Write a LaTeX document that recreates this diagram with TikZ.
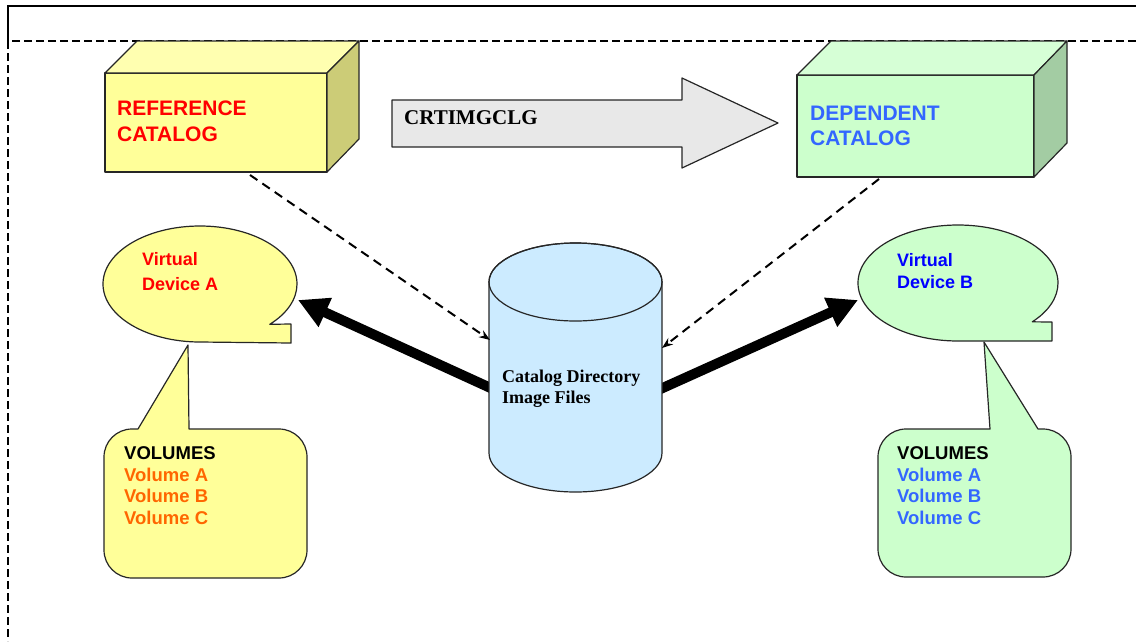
\documentclass[tikz,border=0pt]{standalone}
\usepackage{fontspec}
\setmainfont{Liberation Sans}
\newfontfamily\serifbold{Liberation Serif}
\usetikzlibrary{arrows.meta}
\definecolor{yfront}{HTML}{FFFF99}
\definecolor{ytop}{HTML}{FFFFB0}
\definecolor{yside}{HTML}{CCCC77}
\definecolor{gfront}{HTML}{CCFFCC}
\definecolor{gtop}{HTML}{D6FFD6}
\definecolor{gside}{HTML}{A3CCA3}
\definecolor{cylblue}{HTML}{CCEBFF}
\definecolor{arrgray}{HTML}{E8E8E8}
\definecolor{depblue}{HTML}{3366FF}
\definecolor{volorange}{HTML}{FF6600}
\tikzset{
  shapeline/.style={draw=black!85, line width=1.2pt, line join=round},
  bigtxt/.style={anchor=base west, inner sep=0pt, font=\fontsize{21}{25}\selectfont\bfseries},
  devtxt/.style={anchor=base west, inner sep=0pt, font=\fontsize{18}{21}\selectfont\bfseries},
  voltxt/.style={anchor=base west, inner sep=0pt, font=\fontsize{18.5}{21}\selectfont\bfseries},
  cyltxt/.style={anchor=base west, inner sep=0pt, font=\serifbold\fontsize{18}{21}\selectfont\bfseries},
  dasharrow/.style={line width=2pt, dash pattern=on 9pt off 6pt, -{Stealth[length=11pt,width=8pt]}},
  thickarrow/.style={line width=10pt, -{Triangle[length=30pt,width=30pt]}}
}
\begin{document}
\begin{tikzpicture}[x=1pt,y=-1pt]
\useasboundingbox (0,0) rectangle (1136,641);
% frame
\draw[line width=1.2pt] (8,41) -- (8,6) -- (1136,6);
\draw[line width=1.8pt, dash pattern=on 8pt off 4pt] (1136,41) -- (8,41) -- (8,641);

% reference catalog cuboid
\draw[shapeline, fill=yfront] (105,73) rectangle (327,172);
\draw[shapeline, fill=ytop] (105,73) -- (137,41) -- (359,41) -- (327,73) -- cycle;
\draw[shapeline, fill=yside] (327,73) -- (359,41) -- (359,139) -- (327,172) -- cycle;
\node[bigtxt, text=red] (ref1) at (117,115) {REFERENCE};
\node[bigtxt, text=red] (ref2) at (117,141) {CATALOG};

% dependent catalog cuboid
\draw[shapeline, fill=gfront] (797,75) rectangle (1034,177);
\draw[shapeline, fill=gtop] (797,75) -- (831,41) -- (1067,41) -- (1034,75) -- cycle;
\draw[shapeline, fill=gside] (1034,75) -- (1067,41) -- (1067,143) -- (1034,177) -- cycle;
\node[bigtxt, text=depblue] (dep1) at (810,120) {DEPENDENT};
\node[bigtxt, text=depblue] (dep2) at (810,145) {CATALOG};

% CRTIMGCLG block arrow
\draw[shapeline, fill=arrgray] (392,100) -- (682,100) -- (682,78) -- (778,123) -- (682,168) -- (682,147) -- (392,147) -- cycle;
\node[anchor=base west, inner sep=0pt, font=\serifbold\fontsize{21}{25}\selectfont\bfseries] (crt) at (404,124) {CRTIMGCLG};

% virtual device A callout
\draw[shapeline, fill=yfront] (200,342) arc[start angle=90, end angle=404, x radius=97, y radius=58] -- (291,324) -- (291,343) -- cycle;
\node[devtxt, text=red] (va1) at (142,265) {Virtual};
\node[devtxt, text=red] (va2) at (142,290) {Device A};

% volumes A callout
\draw[shapeline, fill=yfront] (138,429) -- (188,345) -- (189,429) -- (279,429)
  arc[start angle=-90, end angle=0, radius=28] -- (307,550)
  arc[start angle=0, end angle=90, radius=28] -- (132,578)
  arc[start angle=90, end angle=180, radius=28] -- (104,457)
  arc[start angle=180, end angle=270, radius=28] -- cycle;
\node[voltxt] (vola0) at (124,459) {VOLUMES};
\node[voltxt, text=volorange] (vola1) at (124,481) {Volume A};
\node[voltxt, text=volorange] (vola2) at (124,502) {Volume B};
\node[voltxt, text=volorange] (vola3) at (124,524) {Volume C};

% virtual device B callout
\draw[shapeline, fill=gfront] (958,341) arc[start angle=90, end angle=402, x radius=100, y radius=58] -- (1052,322) -- (1052,341) -- cycle;
\node[devtxt, text=blue] (vb1) at (897,266) {Virtual};
\node[devtxt, text=blue] (vb2) at (897,288) {Device B};

% volumes B callout
\draw[shapeline, fill=gfront] (906,429) -- (990,429) -- (984,342) -- (1038,429) -- (1043,429)
  arc[start angle=-90, end angle=0, radius=28] -- (1071,549)
  arc[start angle=0, end angle=90, radius=28] -- (906,577)
  arc[start angle=90, end angle=180, radius=28] -- (878,457)
  arc[start angle=180, end angle=270, radius=28] -- cycle;
\node[voltxt] (volb0) at (897,459) {VOLUMES};
\node[voltxt, text=depblue] (volb1) at (897,481) {Volume A};
\node[voltxt, text=depblue] (volb2) at (897,502) {Volume B};
\node[voltxt, text=depblue] (volb3) at (897,524) {Volume C};

% connector end points
\coordinate (cylLthick) at (495,390);
\coordinate (cylRthick) at (656,391);
\coordinate (devAtip) at (298,300);
\coordinate (devBtip) at (858,300);
\coordinate (refout) at (250,175);
\coordinate (depout) at (879,179);
\coordinate (cylLdash) at (490,340);
\coordinate (cylRdash) at (662,348);

% thick arrows
\draw[thickarrow] (cylLthick) -- (devAtip);
\draw[thickarrow] (cylRthick) -- (devBtip);

% cylinder
\draw[shapeline, fill=cylblue] (489,282) -- (489,453)
  arc[start angle=180, end angle=0, x radius=86.5, y radius=39] -- (662,282)
  arc[start angle=0, end angle=-180, x radius=86.5, y radius=39] -- cycle;
\draw[shapeline] (575.5,282) ellipse[x radius=86.5, y radius=39];
\node[cyltxt] (cyl1) at (502,382) {Catalog Directory};
\node[cyltxt] (cyl2) at (502,403) {Image Files};

% dashed arrows
\draw[dasharrow] (refout) -- (cylLdash);
\draw[dasharrow] (depout) -- (cylRdash);
\end{tikzpicture}
\end{document}
